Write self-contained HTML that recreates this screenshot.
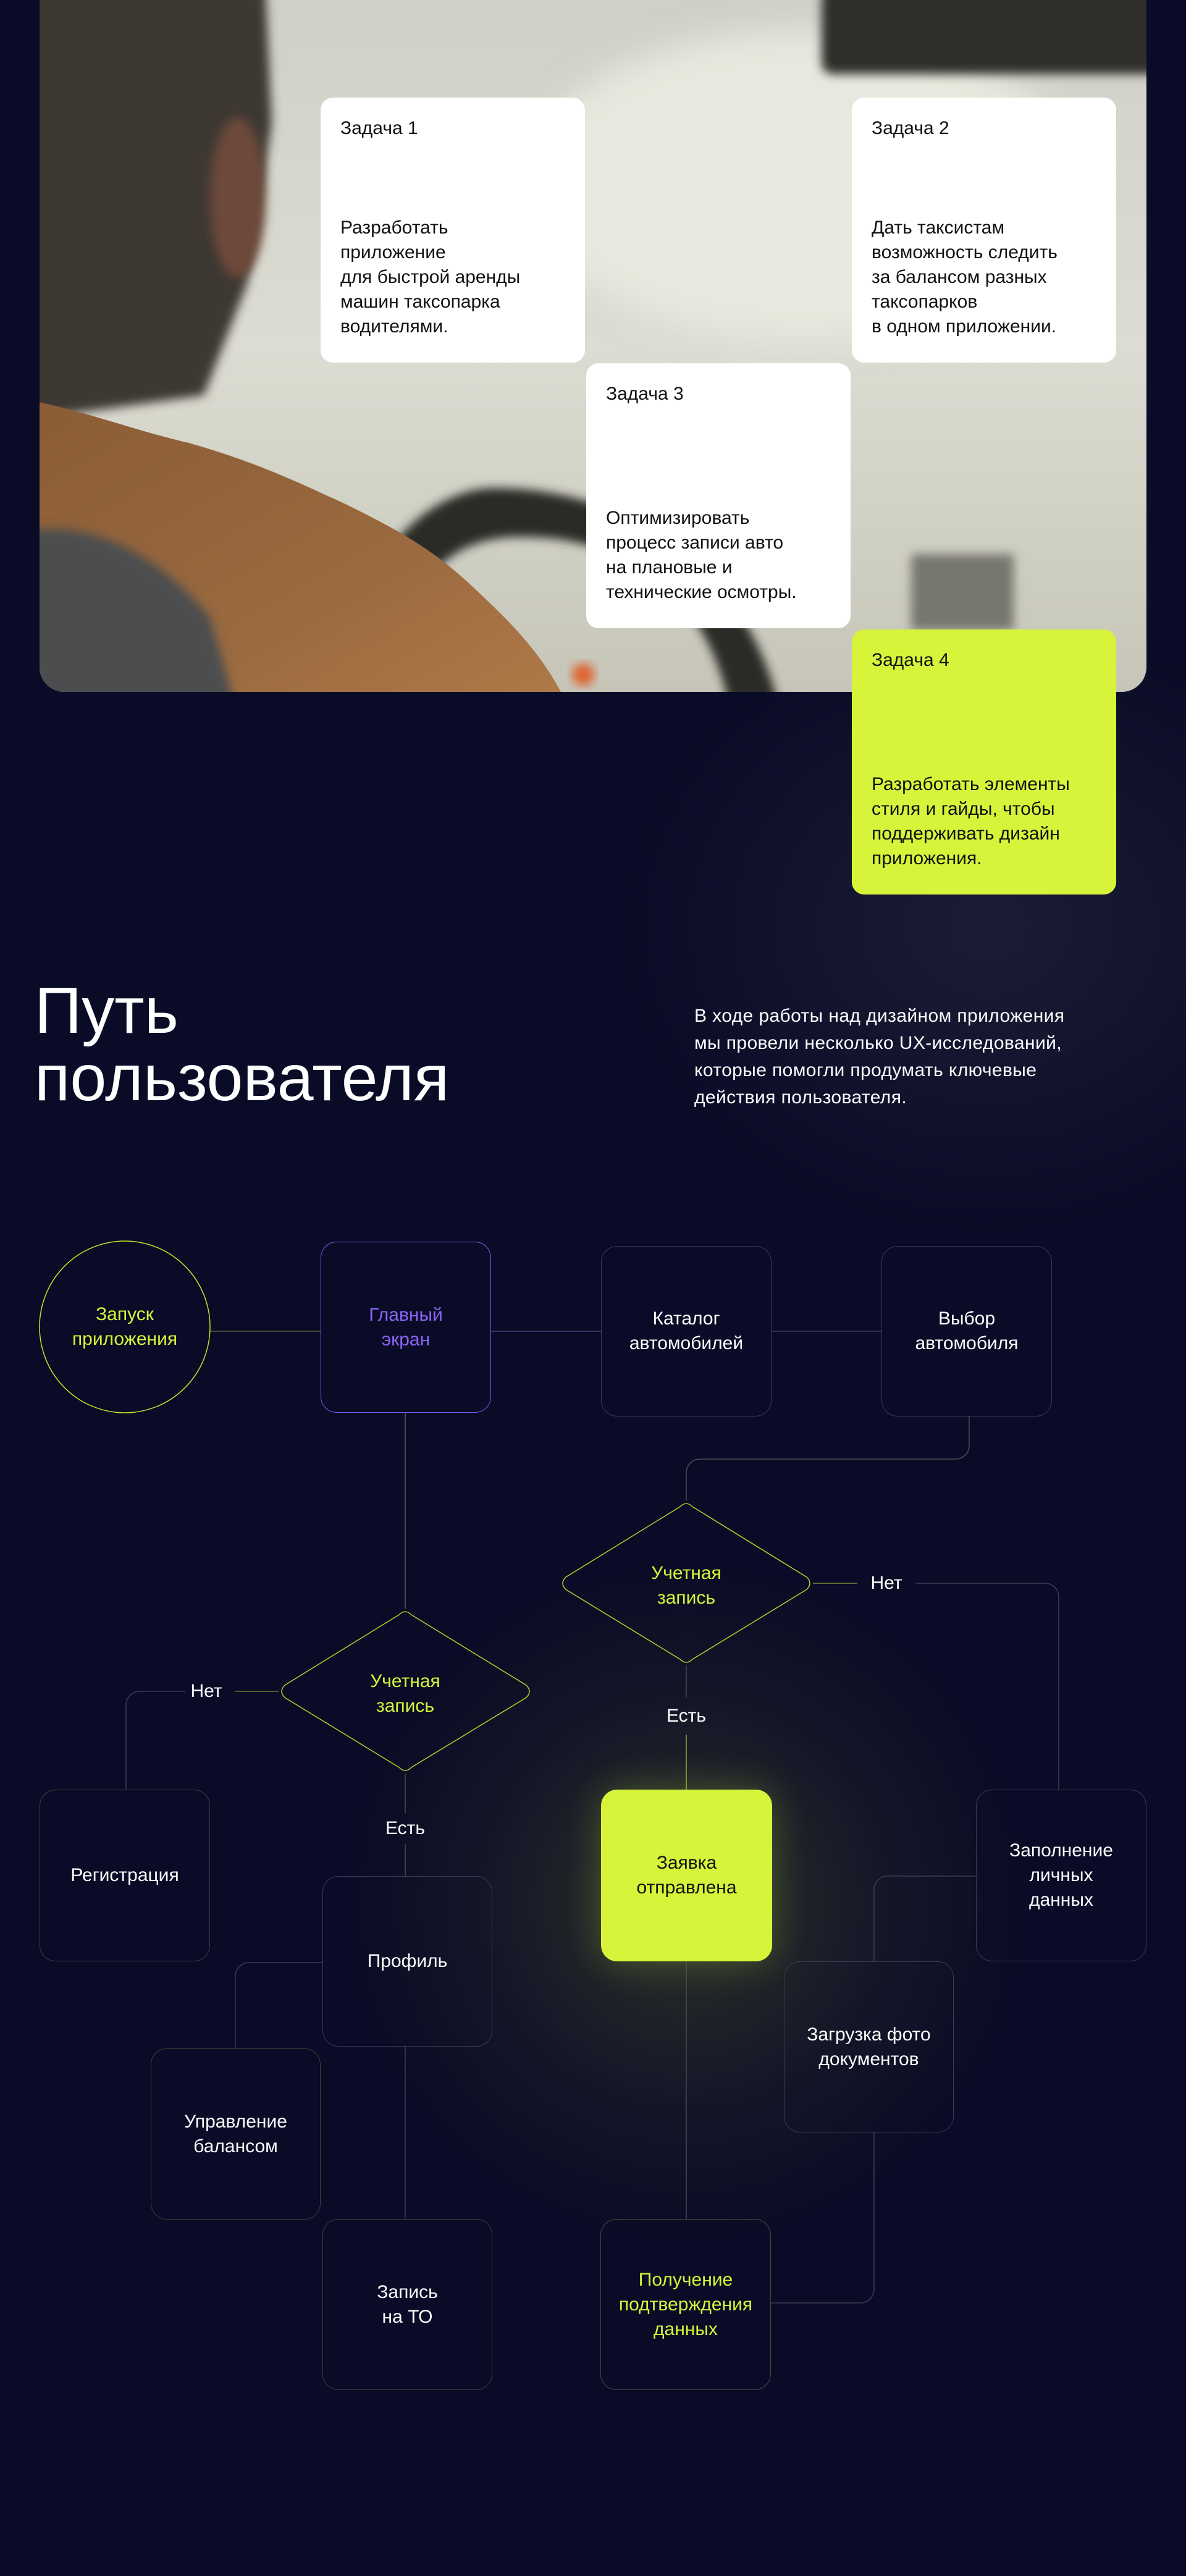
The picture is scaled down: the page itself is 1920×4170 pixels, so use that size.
<!DOCTYPE html>
<html><head><meta charset="utf-8">
<style>
html,body{margin:0;padding:0}
body{width:1920px;height:4170px;background:#0a0b26;position:relative;overflow:hidden;font-family:"Liberation Sans","Noto Sans CJK SC",sans-serif;}
.abs{position:absolute}
.photo{left:64px;top:0;width:1792px;height:1120px;border-radius:0 0 40px 40px;overflow:hidden;}
.card{position:absolute;width:428px;height:429px;box-sizing:border-box;padding:30px 32px 38px;border-radius:20px;background:#fff;color:#111;font-size:30px;line-height:40px;display:flex;flex-direction:column;justify-content:space-between}
.card.lime{background:#d8f43a}
.node{position:absolute;box-sizing:border-box;border:1.5px solid #3a3c55;border-radius:26px;display:flex;align-items:center;justify-content:center;text-align:center;color:#fff;font-size:30px;line-height:40px}
.lbl{position:absolute;color:#fff;font-size:30px;line-height:40px;transform:translate(-50%,-50%);white-space:nowrap}
</style></head><body>
<div class="abs" style="left:1000px;top:1000px;width:1200px;height:1000px;background:radial-gradient(closest-side,rgba(255,255,255,0.07),rgba(255,255,255,0))"></div>
<div class="abs" style="left:560px;top:2530px;width:1100px;height:1100px;background:radial-gradient(closest-side,rgba(200,230,60,0.18),rgba(200,230,60,0.05) 60%,rgba(200,230,60,0))"></div>

<div class="abs photo">
<svg width="1792" height="1120" viewBox="64 0 1792 1120">
 <defs>
  <filter id="b" x="-20%" y="-20%" width="140%" height="140%"><feGaussianBlur stdDeviation="8"/></filter>
  <filter id="b2" x="-20%" y="-20%" width="140%" height="140%"><feGaussianBlur stdDeviation="25"/></filter>
  <linearGradient id="bg" x1="0" y1="0" x2="0" y2="1"><stop offset="0" stop-color="#cfd0c6"/><stop offset=".5" stop-color="#dcdcd2"/><stop offset="1" stop-color="#c6c5b8"/></linearGradient>
  <linearGradient id="sw" x1="0" y1="0" x2="1" y2="1"><stop offset="0" stop-color="#8a5c36"/><stop offset=".6" stop-color="#9a6a40"/><stop offset="1" stop-color="#b07a48"/></linearGradient>
 </defs>
 <rect x="64" y="0" width="1792" height="1120" fill="url(#bg)"/>
 <ellipse cx="1300" cy="300" rx="450" ry="250" fill="#e8e8de" filter="url(#b2)"/>
 <rect x="1330" y="-20" width="560" height="140" rx="18" fill="#2e2e2b" filter="url(#b)"/>
 <rect x="1475" y="897" width="166" height="123" fill="#77776f" filter="url(#b)"/>
 <path d="M551 1140 C560 900 700 790 800 790 C1000 790 1200 900 1260 1140 L1180 1140 C1140 950 1000 860 820 870 C700 880 640 980 630 1140 Z" fill="#2a2a28" filter="url(#b)"/>
 <path d="M40 -20 L430 -20 L440 200 L400 460 L330 640 L40 680 Z" fill="#3d3933" filter="url(#b)"/>
 <ellipse cx="385" cy="320" rx="45" ry="130" fill="#6d4a3a" filter="url(#b)"/>
 <path d="M40 640 L64 651 C150 670 230 700 306 717 C420 750 480 780 551 812 C650 860 700 890 759 944 C830 1010 880 1060 918 1140 L40 1140 Z" fill="url(#sw)"/>
 <path d="M40 860 C150 840 260 900 340 1000 L380 1140 L40 1140 Z" fill="#4b4e50" filter="url(#b)"/>
 <circle cx="944" cy="1092" r="18" fill="#e0602a" filter="url(#b)"/>
</svg>
</div>

<div class="card" style="left:519px;top:158px"><div>Задача 1</div><div>Разработать<br>приложение<br>для быстрой аренды<br>машин таксопарка<br>водителями.</div></div>
<div class="card" style="left:1379px;top:158px"><div>Задача 2</div><div>Дать таксистам<br>возможность следить<br>за балансом разных<br>таксопарков<br>в одном приложении.</div></div>
<div class="card" style="left:949px;top:588px"><div>Задача 3</div><div>Оптимизировать<br>процесс записи авто<br>на плановые и<br>технические осмотры.</div></div>
<div class="card lime" style="left:1379px;top:1019px"><div>Задача 4</div><div>Разработать элементы<br>стиля и гайды, чтобы<br>поддерживать дизайн<br>приложения.</div></div>

<div class="abs" style="left:56px;top:1582px;color:#fff;font-size:106px;line-height:109px;">Путь<br>пользователя</div>
<div class="abs" style="left:1124px;top:1623px;color:#fff;font-size:30px;line-height:44px;letter-spacing:0.4px">В ходе работы над дизайном приложения<br>мы провели несколько UX-исследований,<br>которые помогли продумать ключевые<br>действия пользователя.</div>

<svg class="abs" style="left:0;top:0" width="1920" height="4170" viewBox="0 0 1920 4170" fill="none">
 <g stroke-width="1.5">
  <line x1="340" y1="2155" x2="519" y2="2155" stroke="#5a5a40"/>
  <line x1="795" y1="2155" x2="973" y2="2155" stroke="#4a3f80"/>
  <line x1="1249" y1="2155" x2="1427" y2="2155" stroke="#3a3c55"/>
  <line x1="656" y1="2287" x2="656" y2="2604" stroke="#55606a"/>
  <path d="M1569 2293 V2340 a22 22 0 0 1 -22 22 H1133 a22 22 0 0 0 -22 22 V2429" stroke="#4a4c50"/>
  <path d="M1316 2563 H1388" stroke="#7a8a30"/>
  <path d="M1482 2563 H1692 a22 22 0 0 1 22 22 V2897" stroke="#3a3c55"/>
  <path d="M1111 2696 V2748" stroke="#4a4c55"/>
  <path d="M1111 2808 V2897" stroke="#9ab030"/>
  <path d="M451 2738 H380" stroke="#6a7530"/>
  <path d="M300 2738 H226 a22 22 0 0 0 -22 22 V2897" stroke="#3a3c55"/>
  <path d="M656 2871 V2935" stroke="#4a4c55"/>
  <path d="M656 2985 V3037" stroke="#4a4c55"/>
  <path d="M522 3177 H403 a22 22 0 0 0 -22 22 V3316" stroke="#3a3c55"/>
  <path d="M656 3313 V3592" stroke="#3a3c55"/>
  <path d="M1111 3175 V3592" stroke="#4a4c50"/>
  <path d="M1580 3037 H1437 a22 22 0 0 0 -22 22 V3175" stroke="#3a3c55"/>
  <path d="M1415 3452 V3706 a22 22 0 0 1 -22 22 H1248" stroke="#3a3c55"/>
  <ellipse cx="202" cy="2148" rx="138" ry="139" stroke="#c9e02a"/>
  <path d="M1101 2439 Q1111 2429 1121 2439 L1306 2553 Q1316 2563 1306 2573 L1121 2686 Q1111 2696 1101 2686 L916 2573 Q906 2563 916 2553 Z" stroke="#b8cc2a"/>
  <path d="M646 2614 Q656 2604 666 2614 L852 2728 Q862 2738 852 2748 L666 2861 Q656 2871 646 2861 L461 2748 Q451 2738 461 2728 Z" stroke="#b8cc2a"/>
 </g>
 <g font-family="Liberation Sans, sans-serif" font-size="30" text-anchor="middle" fill="#d8f43a">
  <text x="1111" y="2556">Учетная</text><text x="1111" y="2596">запись</text>
  <text x="656" y="2731">Учетная</text><text x="656" y="2771">запись</text>
 </g>
</svg>

<div class="node" style="left:64px;top:2009px;width:276px;height:278px;border:none;color:#d8f43a">Запуск<br>приложения</div>
<div class="node" style="left:519px;top:2010px;width:276px;height:277px;border-color:#7b5cf0;color:#8b64f5">Главный<br>экран</div>
<div class="node" style="left:973px;top:2017px;width:276px;height:276px">Каталог<br>автомобилей</div>
<div class="node" style="left:1427px;top:2017px;width:276px;height:276px">Выбор<br>автомобиля</div>

<div class="lbl" style="left:1435px;top:2563px">Нет</div>
<div class="lbl" style="left:1111px;top:2778px">Есть</div>
<div class="lbl" style="left:334px;top:2738px">Нет</div>
<div class="lbl" style="left:656px;top:2960px">Есть</div>

<div class="node" style="left:64px;top:2897px;width:276px;height:278px;border-color:#3e4038">Регистрация</div>
<div class="node" style="left:973px;top:2897px;width:277px;height:278px;background:#d8f43a;border:none;color:#111;box-shadow:0 0 60px rgba(216,244,58,0.25)">Заявка<br>отправлена</div>
<div class="node" style="left:1580px;top:2897px;width:276px;height:278px">Заполнение<br>личных<br>данных</div>
<div class="node" style="left:522px;top:3037px;width:275px;height:276px">Профиль</div>
<div class="node" style="left:1269px;top:3175px;width:275px;height:277px">Загрузка фото<br>документов</div>
<div class="node" style="left:244px;top:3316px;width:275px;height:277px;border-color:#3e4038">Управление<br>балансом</div>
<div class="node" style="left:522px;top:3592px;width:275px;height:277px;border-color:#3e4038">Запись<br>на ТО</div>
<div class="node" style="left:972px;top:3592px;width:276px;height:277px;border-color:#4a4a40;color:#d8f43a">Получение<br>подтверждения<br>данных</div>
</body></html>
